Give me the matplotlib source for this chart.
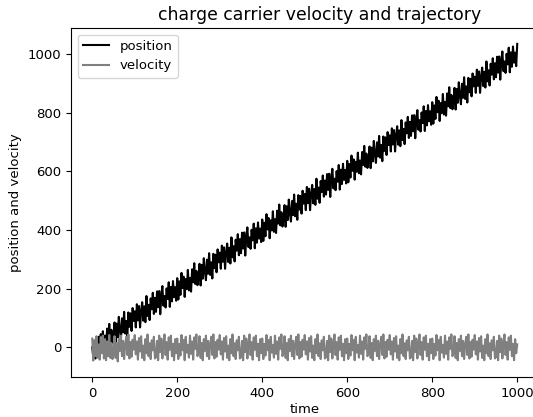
import numpy as np
import matplotlib
matplotlib.use("Agg")
import matplotlib.pyplot as plt

# time grid (step 2.5)
time = np.arange(0, 1000.1, 2.5)

# position (noisy band around the diagonal)
position = [
    0, -35, 12, -38, 30, -22, 36, -12, 45, -8, 55, 0, 40, -5, 64, 24, 80, 20, 60, 16,
    37, 85, 11, 81, 34, 104, 58, 29, 99, 51, 121, 47, 90, 35, 119, 70, 116, 56, 134, 90,
    123, 68, 147, 92, 141, 68, 123, 154, 91, 140, 86, 175, 107, 145, 93, 167, 130, 186, 114, 169,
    121, 191, 137, 192, 113, 178, 209, 142, 175, 136, 201, 165, 222, 138, 206, 157, 226, 171, 205, 159,
    236, 163, 225, 179, 254, 202, 241, 172, 233, 199, 264, 194, 237, 190, 266, 222, 287, 216, 261, 212,
    237, 285, 211, 281, 234, 304, 258, 229, 299, 251, 321, 247, 290, 235, 319, 270, 316, 256, 334, 290,
    323, 268, 347, 292, 341, 268, 323, 354, 291, 340, 286, 375, 307, 345, 293, 367, 330, 386, 314, 369,
    321, 391, 337, 392, 313, 378, 409, 342, 375, 336, 401, 365, 422, 338, 406, 357, 426, 371, 405, 359,
    436, 363, 425, 379, 454, 402, 441, 372, 433, 399, 464, 394, 437, 390, 466, 422, 487, 416, 461, 412,
    437, 485, 411, 481, 434, 504, 458, 429, 499, 451, 521, 447, 490, 435, 519, 470, 516, 456, 534, 490,
    523, 468, 547, 492, 541, 468, 523, 554, 491, 540, 486, 575, 507, 545, 493, 567, 530, 586, 514, 569,
    521, 591, 537, 592, 513, 578, 609, 542, 575, 536, 601, 565, 622, 538, 606, 557, 626, 571, 605, 559,
    636, 563, 625, 579, 654, 602, 641, 572, 633, 599, 664, 594, 637, 590, 666, 622, 687, 616, 661, 612,
    637, 685, 611, 681, 634, 704, 658, 629, 699, 651, 721, 647, 690, 635, 719, 670, 716, 656, 734, 690,
    723, 668, 747, 692, 741, 668, 723, 754, 691, 740, 686, 775, 707, 745, 693, 767, 730, 786, 714, 769,
    721, 791, 737, 792, 713, 778, 809, 742, 775, 736, 801, 765, 822, 738, 806, 757, 826, 771, 805, 759,
    836, 763, 825, 779, 854, 802, 841, 772, 833, 799, 864, 794, 837, 790, 866, 822, 887, 816, 861, 812,
    837, 885, 811, 881, 834, 904, 858, 829, 899, 851, 921, 847, 890, 835, 919, 870, 916, 856, 934, 890,
    923, 868, 947, 892, 941, 868, 923, 954, 891, 940, 886, 975, 907, 945, 893, 967, 930, 986, 914, 969,
    921, 991, 937, 992, 913, 978, 1009, 942, 975, 936, 1001, 965, 1022, 938, 1006, 957, 1026, 971, 1005, 959,
    1035,
]

# velocity (band between about -45 and 45)
velocity = [
    30, -45, 25, -30, 38, -35, 10, -42, 35, -20, 40, -38, 28, -44, 20, -30, 42, -36, 15, -40,
    -20, 38, -36, 15, -48, 28, -12, 40, -30, 22, -40, 10, 36, -26, 44, -38, 18, -32, 26, -8,
    42, -24, 20, -42, 32, -14, 38, -36, 6, -44, 28, -20, 44, -30, 14, -40, 24, -10, 36, -38,
    -34, 22, -44, 40, -16, 30, -38, 10, 44, -26, 18, -42, 34, -8, 40, -30, 12, -44, 28, -20,
    30, -40, 12, -28, 42, -10, 25, -44, 36, -18, 8, -35, 40, -22, 20, -42, 34, -5, 44, -30,
    -20, 38, -36, 15, -44, 28, -12, 40, -30, 22, -40, 10, 36, -26, 44, -38, 18, -32, 26, -8,
    42, -24, 20, -42, 32, -14, 38, -36, 6, -44, 28, -20, 44, -30, 14, -40, 24, -10, 36, -38,
    -34, 22, -44, 40, -16, 30, -38, 10, 44, -26, 18, -42, 34, -8, 40, -30, 12, -44, 28, -20,
    30, -40, 12, -28, 42, -10, 25, -44, 36, -18, 8, -35, 40, -22, 20, -42, 34, -5, 44, -30,
    -20, 38, -36, 15, -44, 28, -12, 40, -30, 22, -40, 10, 36, -26, 44, -38, 18, -32, 26, -8,
    42, -24, 20, -42, 32, -14, 38, -36, 6, -44, 28, -20, 44, -30, 14, -40, 24, -10, 36, -38,
    -34, 22, -44, 40, -16, 30, -38, 10, 44, -26, 18, -42, 34, -8, 40, -30, 12, -44, 28, -20,
    30, -40, 12, -28, 42, -10, 25, -44, 36, -18, 8, -35, 40, -22, 20, -42, 34, -5, 44, -30,
    -20, 38, -36, 15, -44, 28, -12, 40, -30, 22, -40, 10, 36, -26, 44, -38, 18, -32, 26, -8,
    42, -24, 20, -42, 32, -14, 38, -36, 6, -44, 28, -20, 44, -30, 14, -40, 24, -10, 36, -38,
    -34, 22, -44, 40, -16, 30, -38, 10, 44, -26, 18, -42, 34, -8, 40, -30, 12, -44, 28, -20,
    30, -40, 12, -28, 42, -10, 25, -44, 36, -18, 8, -35, 40, -22, 20, -42, 34, -5, 44, -30,
    -20, 38, -36, 15, -44, 28, -12, 40, -30, 22, -40, 10, 36, -26, 44, -38, 18, -32, 26, -8,
    42, -24, 20, -42, 32, -14, 38, -36, 6, -44, 28, -20, 44, -30, 14, -40, 24, -10, 36, -38,
    -34, 22, -44, 40, -16, 30, -38, 10, 44, -26, 18, -42, 34, -8, 40, -30, 12, -44, 28, -20,
    10,
]

plt.rcParams['font.size'] = 9.5

fig = plt.figure(figsize=(5.33, 4.17), dpi=100)
ax = fig.add_axes([0.1332, 0.0952, 1.0103 - 0.1332, 0.9329 - 0.0952])

ax.plot(time, position, color='black', label='position')
ax.plot(time, velocity, color='gray', label='velocity')

ax.set_title('charge carrier velocity and trajectory', fontsize=12.4, x=0.5326)
ax.set_xlabel('time', labelpad=2.5)
ax.set_ylabel('position and velocity')
ax.legend(loc='upper left')

fig.savefig('out.png', dpi=100)
